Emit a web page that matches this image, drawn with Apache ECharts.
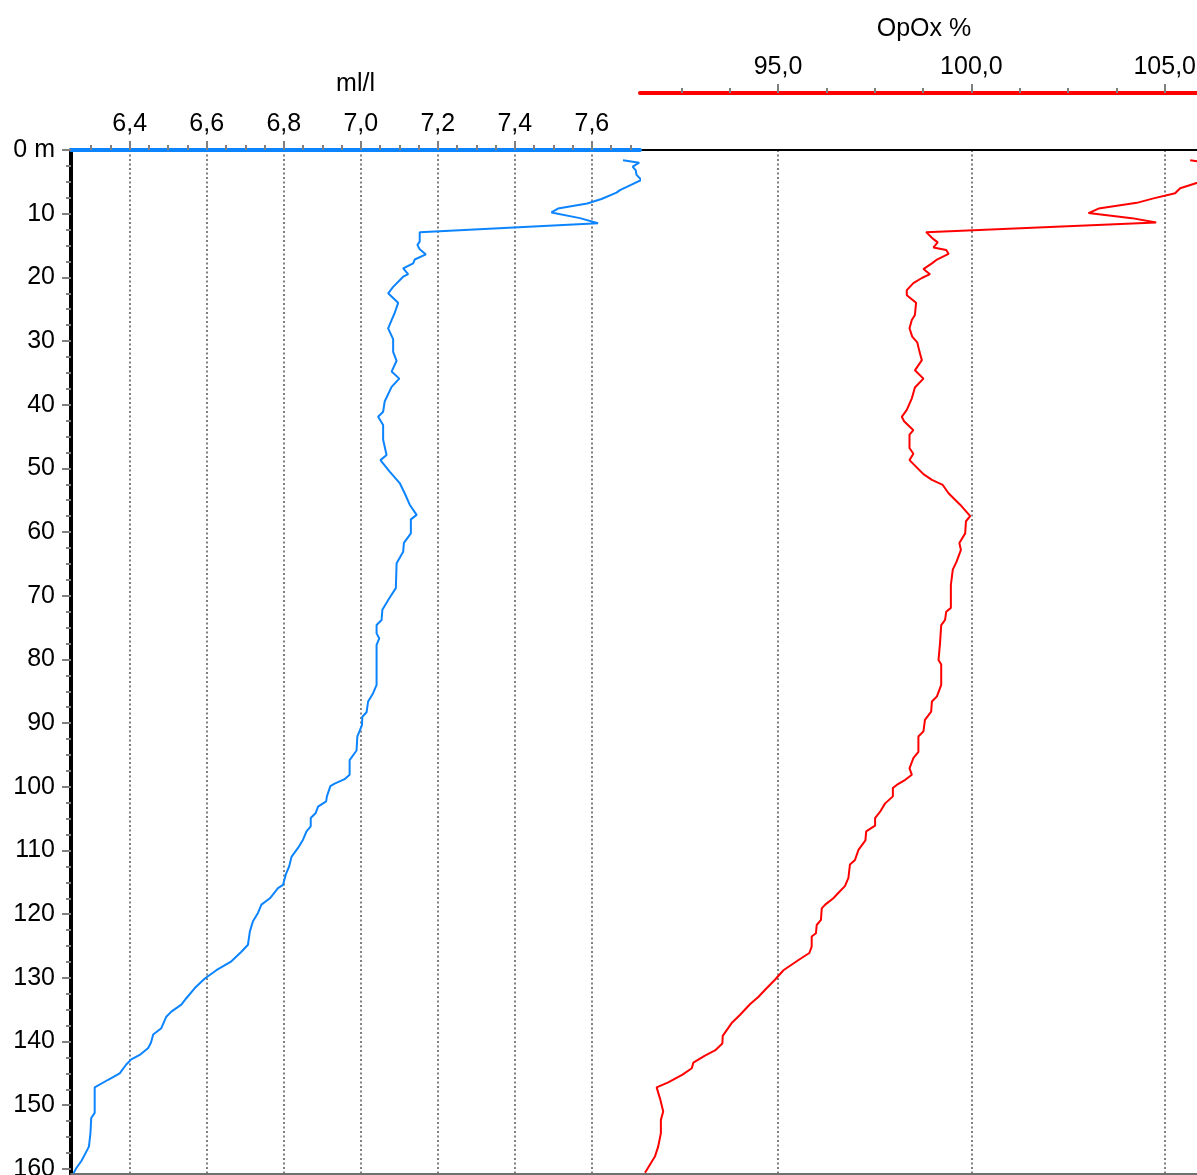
<!DOCTYPE html>
<html>
<head>
<meta charset="utf-8">
<script src="https://cdn.jsdelivr.net/npm/echarts@6/dist/echarts.min.js"></script>
<style>
  html, body { margin: 0; padding: 0; background: #ffffff; }
  #chart { width: 1197px; height: 1175px; }
</style>
</head>
<body>
<div id="chart"></div>
<script>
// Dissolved oxygen profile: concentration (ml/l) and saturation (OpOx %) against depth (m)
const BLUE_DEPTH = [1.6, 2.0, 2.6, 3.2, 3.9, 4.7, 6.3, 6.7, 7.7, 8.4, 9.2, 9.8, 10.7, 11.5, 12.9, 14.4, 14.9, 15.6, 16.4, 17.2,
  17.8, 18.6, 19.5, 19.9, 21.5, 22.5, 24.0, 25.6, 26.7, 28.0, 29.7, 31.7, 33.1, 34.8, 35.9, 37.2, 39.5, 41.1, 41.9, 43.2,
  45.5, 47.9, 48.7, 50.5, 52.3, 53.9, 55.7, 57.3, 58.0, 60.2, 61.7, 63.1, 64.9, 68.8, 70.4, 72.2, 73.8, 74.6, 75.9, 76.7,
  77.7, 84.0, 85.3, 86.6, 88.3, 89.0, 90.3, 92.1, 94.3, 95.8, 98.1, 98.8, 99.5, 99.9, 101.5, 102.3, 103.1, 104.1, 104.9, 106.2,
  107.0, 108.3, 109.6, 111.0, 112.5, 113.8, 115.4, 115.9, 117.5, 118.5, 119.8, 121.1, 122.7, 124.8, 125.9, 127.4, 128.8, 130.1, 131.6, 133.2,
  134.2, 135.3, 136.1, 137.9, 138.9, 140.2, 141.0, 142.1, 142.8, 143.6, 145.0, 146.0, 147.2, 151.2, 152.0, 154.4, 156.5, 157.8, 158.8, 159.9,
  160.7];
const BLUE_ML_L = [7.681, 7.723, 7.706, 7.714, 7.716, 7.729, 7.673, 7.664, 7.625, 7.588, 7.512, 7.495, 7.569, 7.616, 7.153, 7.153, 7.147, 7.153, 7.169, 7.140,
  7.136, 7.110, 7.123, 7.110, 7.084, 7.071, 7.097, 7.088, 7.080, 7.071, 7.084, 7.084, 7.093, 7.080, 7.100, 7.080, 7.062, 7.058, 7.045, 7.058,
  7.058, 7.067, 7.051, 7.075, 7.101, 7.114, 7.127, 7.145, 7.130, 7.130, 7.112, 7.110, 7.093, 7.091, 7.074, 7.056, 7.054, 7.041, 7.041, 7.048,
  7.041, 7.041, 7.032, 7.019, 7.015, 7.004, 7.003, 6.991, 6.989, 6.971, 6.971, 6.958, 6.932, 6.921, 6.912, 6.910, 6.889, 6.883, 6.870, 6.870,
  6.859, 6.850, 6.837, 6.820, 6.814, 6.805, 6.798, 6.785, 6.764, 6.742, 6.733, 6.720, 6.712, 6.707, 6.690, 6.664, 6.625, 6.595, 6.569, 6.547,
  6.534, 6.508, 6.495, 6.482, 6.461, 6.455, 6.448, 6.426, 6.404, 6.391, 6.374, 6.344, 6.309, 6.309, 6.300, 6.298, 6.294, 6.283, 6.274, 6.261,
  6.254];

const RED_DEPTH = [1.6, 2.0, 2.6, 3.2, 3.9, 4.7, 6.0, 6.8, 7.6, 8.3, 9.2, 9.9, 10.7, 11.4, 12.9, 14.0, 14.5, 15.3, 15.7, 16.3,
  17.2, 17.8, 18.7, 19.5, 20.1, 20.9, 22.0, 22.8, 24.0, 25.9, 26.7, 28.0, 29.3, 30.2, 31.7, 33.0, 34.6, 35.9, 37.3, 39.0,
  40.8, 41.9, 42.6, 44.0, 44.7, 46.8, 47.7, 48.7, 50.9, 51.8, 52.6, 53.9, 55.7, 57.5, 58.3, 60.2, 61.7, 62.8, 64.6, 65.9,
  68.3, 71.9, 72.5, 73.8, 74.6, 77.4, 77.7, 80.1, 80.8, 84.0, 85.8, 86.6, 88.2, 89.5, 91.3, 92.1, 94.5, 95.5, 97.1, 98.1,
  98.9, 99.7, 100.2, 101.5, 102.6, 103.9, 104.9, 106.1, 107.0, 108.4, 109.9, 111.5, 112.2, 114.3, 115.6, 116.4, 117.5, 118.5, 119.1, 120.9,
  121.7, 123.0, 123.5, 125.1, 126.1, 127.2, 128.8, 130.3, 131.9, 133.0, 134.1, 135.8, 137.1, 139.1, 140.3, 141.4, 142.2, 143.3, 144.2, 145.2,
  146.4, 147.2, 149.0, 151.0, 152.3, 154.4, 156.5, 158.0, 159.3, 160.6];
const RED_OPOX = [105.66, 106.05, 105.88, 105.95, 105.97, 106.08, 105.40, 105.27, 104.71, 104.28, 103.29, 103.03, 104.15, 104.78, 98.83, 99.02, 99.13, 99.02, 99.35, 99.41,
  99.11, 98.98, 98.76, 98.93, 98.72, 98.50, 98.33, 98.33, 98.57, 98.54, 98.46, 98.40, 98.47, 98.60, 98.66, 98.72, 98.54, 98.76, 98.54, 98.46,
  98.33, 98.20, 98.26, 98.50, 98.40, 98.40, 98.50, 98.40, 98.76, 98.98, 99.26, 99.41, 99.71, 99.97, 99.86, 99.84, 99.69, 99.73, 99.62, 99.52,
  99.47, 99.47, 99.35, 99.32, 99.22, 99.19, 99.15, 99.15, 99.22, 99.22, 99.11, 98.98, 98.96, 98.80, 98.76, 98.63, 98.63, 98.50, 98.40, 98.46,
  98.29, 98.07, 97.97, 97.97, 97.77, 97.64, 97.51, 97.51, 97.28, 97.26, 97.08, 96.99, 96.86, 96.82, 96.73, 96.60, 96.43, 96.22, 96.13, 96.11,
  96.00, 95.98, 95.87, 95.87, 95.81, 95.53, 95.14, 94.92, 94.66, 94.49, 94.28, 94.02, 93.80, 93.57, 93.56, 93.37, 93.11, 92.81, 92.77, 92.53,
  92.16, 91.86, 91.95, 92.03, 91.97, 91.97, 91.90, 91.82, 91.69, 91.56];

// Tick labels
const DEPTH_TICKS = [0, 10, 20, 30, 40, 50, 60, 70, 80, 90, 100, 110, 120, 130, 140, 150, 160];
const MLL_TICKS = [6.4, 6.6, 6.8, 7.0, 7.2, 7.4, 7.6];
const OPOX_TICKS = [95, 100, 105];

// Axis extents
const DEPTH_RANGE = [0, 160.8];
const MLL_RANGE = [6.2475, 7.725];
const OPOX_RANGE = [91.43, 106.12];

const BLUE = '#0c84ff';
const RED = '#ff0000';
const TICK_GREY = '#808080';
const FONT = 'Liberation Sans, Arial, sans-serif';

// Minor tick positions between labelled ticks
function minorValues(range, step, perMajor) {
  const out = [];
  const k0 = Math.ceil(range[0] / step - 1e-6);
  const k1 = Math.floor(range[1] / step + 1e-6);
  for (let k = k0; k <= k1; k++) {
    if (k % perMajor === 0) continue;
    const v = +(k * step).toFixed(4);
    if (v - range[0] < step * 0.3) continue;
    out.push(v);
  }
  return out;
}
const MLL_MINOR = minorValues(MLL_RANGE, 0.05, 4);
const OPOX_MINOR = minorValues(OPOX_RANGE, 1.25, 4);
const DEPTH_MINOR = minorValues([0, 160], 2.5, 4);

const comma1 = v => Number(v).toFixed(1).replace('.', ',');
const labelStyle = { fontSize: 25, color: '#000', fontFamily: FONT };

const blueData = BLUE_DEPTH.map((d, i) => [BLUE_ML_L[i], d]);
const redData = RED_DEPTH.map((d, i) => [RED_OPOX[i], d]);

function xMain(gridIndex, range, ticks, interval, color, offset, name, nameGap) {
  return {
    type: 'value', gridIndex, position: 'top', offset,
    min: range[0], max: range[1], minInterval: interval, maxInterval: interval,
    name, nameLocation: 'middle', nameGap,
    nameTextStyle: { fontSize: 25, color: '#000', fontFamily: FONT },
    axisLine: { show: true, onZero: false, lineStyle: { color, width: 4, cap: 'round' } },
    axisTick: { show: true, customValues: ticks, length: 9, lineStyle: { color: TICK_GREY, width: 2 } },
    axisLabel: { show: true, customValues: ticks, formatter: comma1, margin: 13, ...labelStyle },
    splitLine: { show: true, lineStyle: { color: TICK_GREY, width: 2, type: [2, 2.5] } },
    minorTick: { show: false }
  };
}
function xMinor(gridIndex, range, values, offset) {
  return {
    type: 'value', gridIndex, position: 'top', offset,
    min: range[0], max: range[1],
    axisLine: { show: false, onZero: false },
    axisTick: { show: true, customValues: values, length: 5, lineStyle: { color: TICK_GREY, width: 2 } },
    axisLabel: { show: false }, splitLine: { show: false }
  };
}
function xFrame(gridIndex, range, position, color, width) {
  return {
    type: 'value', gridIndex, position, offset: 0,
    min: range[0], max: range[1],
    axisLine: { show: true, onZero: false, lineStyle: { color, width } },
    axisTick: { show: false }, axisLabel: { show: false }, splitLine: { show: false }
  };
}

const option = {
  animation: false,
  backgroundColor: '#ffffff',
  grid: [
    { left: 71, top: 150, width: 569, bottom: 1, containLabel: false, outerBoundsMode: 'none' },
    { left: 640, top: 150, width: 568, bottom: 1, containLabel: false, outerBoundsMode: 'none' }
  ],
  xAxis: [
    // frame lines first so the coloured axes sit on top
    xFrame(1, OPOX_RANGE, 'top', '#000000', 2),
    xFrame(0, MLL_RANGE, 'bottom', '#707070', 2),
    xFrame(1, OPOX_RANGE, 'bottom', '#707070', 2),
    xMain(0, MLL_RANGE, MLL_TICKS, 0.2, BLUE, 0, 'ml/l', 53),
    xMinor(0, MLL_RANGE, MLL_MINOR, 0),
    xMain(1, OPOX_RANGE, OPOX_TICKS, 5, RED, 57, 'OpOx %', 51),
    xMinor(1, OPOX_RANGE, OPOX_MINOR, 57)
  ],
  yAxis: [
    {
      type: 'value', gridIndex: 0, position: 'left', inverse: true,
      min: DEPTH_RANGE[0], max: DEPTH_RANGE[1], interval: 10,
      axisLine: { show: true, onZero: false, lineStyle: { color: '#000000', width: 4 } },
      axisTick: { show: true, customValues: DEPTH_TICKS, length: 9, lineStyle: { color: TICK_GREY, width: 2 } },
      axisLabel: { show: true, customValues: DEPTH_TICKS, margin: 16,
        formatter: v => (v === 0 ? '0 m' : String(v)), ...labelStyle },
      splitLine: { show: false }
    },
    {
      type: 'value', gridIndex: 0, position: 'left', inverse: true,
      min: DEPTH_RANGE[0], max: DEPTH_RANGE[1],
      axisLine: { show: false, onZero: false },
      axisTick: { show: true, customValues: DEPTH_MINOR, length: 5, lineStyle: { color: TICK_GREY, width: 2 } },
      axisLabel: { show: false }, splitLine: { show: false }
    },
    {
      type: 'value', gridIndex: 1, inverse: true, show: false,
      min: DEPTH_RANGE[0], max: DEPTH_RANGE[1]
    }
  ],
  series: [
    {
      name: 'ml/l', type: 'line', xAxisIndex: 3, yAxisIndex: 0,
      data: blueData, showSymbol: false, symbol: 'none', clip: false,
      lineStyle: { color: BLUE, width: 2 }, z: 5
    },
    {
      name: 'OpOx %', type: 'line', xAxisIndex: 5, yAxisIndex: 2,
      data: redData, showSymbol: false, symbol: 'none', clip: false,
      lineStyle: { color: RED, width: 2 }, z: 5
    }
  ]
};

const chart = echarts.init(document.getElementById('chart'), null, { renderer: 'canvas' });
chart.setOption(option);
</script>
</body>
</html>
